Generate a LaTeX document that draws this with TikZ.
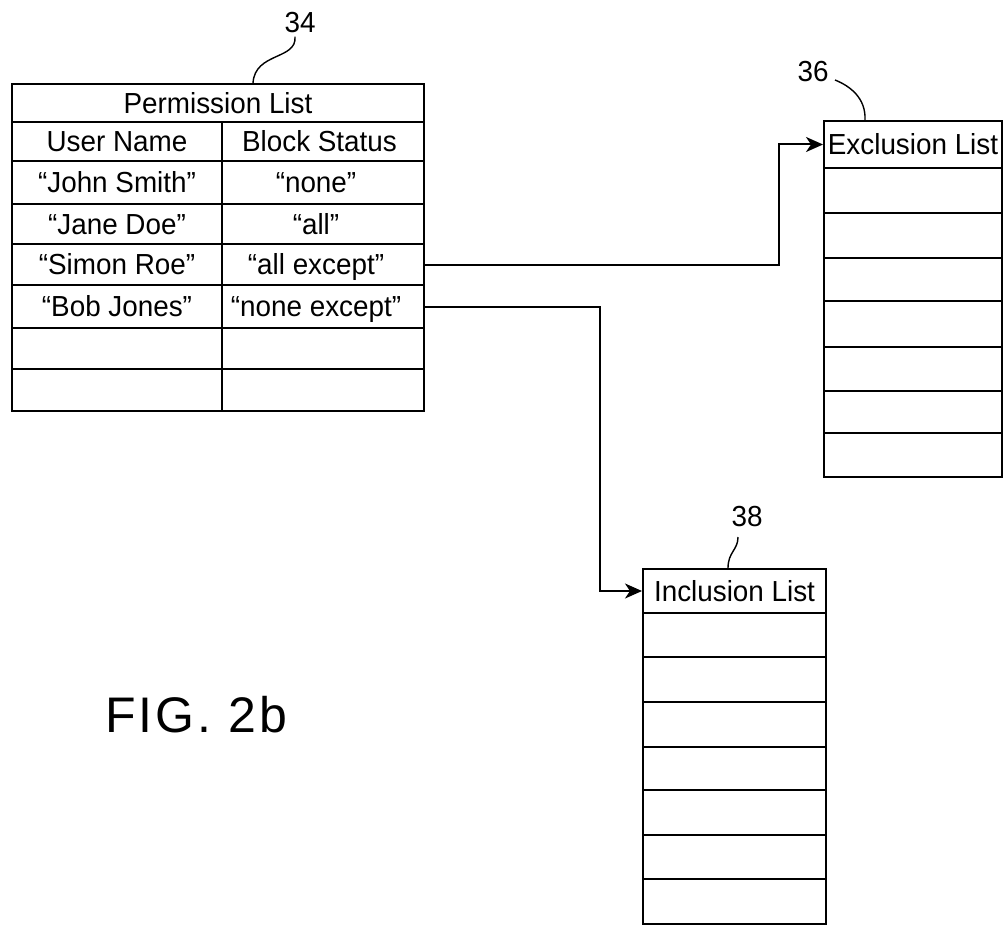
\documentclass[tikz,border=0pt]{standalone}
\usepackage{fontspec}
\setmainfont{Liberation Sans}
\newfontfamily\tabfont{Liberation Sans}[FakeStretch=0.96]
\usetikzlibrary{arrows.meta}
\begin{document}
\begin{tikzpicture}[x=0.5pt,y=-0.5pt,
  cell/.style={draw, line width=1pt, inner sep=0pt, anchor=north west,
    text height=10.4pt, text depth=0pt, font=\tabfont\fontsize{14.5}{16}\selectfont},
  lcol/.style={cell, minimum width=105pt},
  rcol/.style={cell, minimum width=101pt},
  excell/.style={cell, minimum width=89pt},
  incell/.style={cell, minimum width=91.5pt},
  lead/.style={line width=0.7pt},
  conn/.style={line width=1pt, -{Stealth[length=8.5pt,width=7.5pt,inset=2.5pt]}},
  refnum/.style={font=\tabfont\fontsize{14.5}{16}\selectfont, inner sep=0pt}]
\useasboundingbox (0,0) rectangle (1004,925);

% ---------- Permission list (34)
\node[cell, minimum width=206pt, minimum height=19pt] (pTitle) at (11,83) {Permission List};
\node[lcol, minimum height=19.5pt] (uHead) at (11,121) {User Name};
\node[rcol, minimum height=19.5pt] (sHead) at (221,121) {\hspace*{-3.5pt}Block Status};
\node[lcol, minimum height=21.5pt] (uJohn) at (11,160) {“John Smith”};
\node[rcol, minimum height=21.5pt] (sJohn) at (221,160) {\hspace*{-7pt}“none”};
\node[lcol, minimum height=20pt] (uJane) at (11,203) {“Jane Doe”};
\node[rcol, minimum height=20pt] (sJane) at (221,203) {\hspace*{-7pt}“all”};
\node[lcol, minimum height=20.5pt] (uSimon) at (11,243) {“Simon Roe”};
\node[rcol, minimum height=20.5pt] (sSimon) at (221,243) {\hspace*{-7pt}“all except”};
\node[lcol, minimum height=21.5pt] (uBob) at (11,284) {“Bob Jones”};
\node[rcol, minimum height=21.5pt] (sBob) at (221,284) {\hspace*{-7pt}“none except”};
\node[lcol, minimum height=20.5pt] (uE1) at (11,327) {};
\node[rcol, minimum height=20.5pt] (sE1) at (221,327) {};
\node[lcol, minimum height=21pt] (uE2) at (11,368) {};
\node[rcol, minimum height=21pt] (sE2) at (221,368) {};

\node[refnum] (n34) at (300,23) {34};
\draw[lead] (n34.south) ++(-5,3) .. controls (297,60) and (255,52) .. (253,83);

% ---------- Exclusion list (36)
\node[excell, minimum height=23.5pt] (exTitle) at (823,120) {Exclusion List};
\node[excell, minimum height=22.5pt] (ex1) at (823,167) {};
\node[excell, minimum height=22.5pt] (ex2) at (823,212) {};
\node[excell, minimum height=21.5pt] (ex3) at (823,257) {};
\node[excell, minimum height=23pt] (ex4) at (823,300) {};
\node[excell, minimum height=22pt] (ex5) at (823,346) {};
\node[excell, minimum height=21pt] (ex6) at (823,390) {};
\node[excell, minimum height=22pt] (ex7) at (823,432) {};

\node[refnum] (n36) at (813,72) {36};
\draw[lead] (835,80) .. controls (850,86) and (866,98) .. (865,120);

% ---------- Inclusion list (38)
\node[incell, minimum height=22pt] (inTitle) at (642,568) {Inclusion List};
\node[incell, minimum height=22pt] (in1) at (642,612) {};
\node[incell, minimum height=22.5pt] (in2) at (642,656) {};
\node[incell, minimum height=22.5pt] (in3) at (642,701) {};
\node[incell, minimum height=21.5pt] (in4) at (642,746) {};
\node[incell, minimum height=22.5pt] (in5) at (642,789) {};
\node[incell, minimum height=22pt] (in6) at (642,834) {};
\node[incell, minimum height=22.5pt] (in7) at (642,878) {};

\node[refnum] (n38) at (747,517) {38};
\draw[lead] (738,537) .. controls (738,550) and (728,552) .. (728,568);

% ---------- connectors
\coordinate (exBend) at (779,0);
\coordinate (inBend) at (600,0);
\draw[conn] (sSimon.east) -- (sSimon.east -| exBend) -- (exBend |- exTitle.west) -- (exTitle.west);
\draw[conn] (sBob.east) -- (sBob.east -| inBend) -- (inBend |- inTitle.west) -- (inTitle.west);

% ---------- caption
\node[anchor=base west, inner sep=0pt, font=\fontsize{25}{28}\selectfont\addfontfeature{LetterSpace=6}] (fig) at (105,732) {FIG. 2b};
\end{tikzpicture}
\end{document}
